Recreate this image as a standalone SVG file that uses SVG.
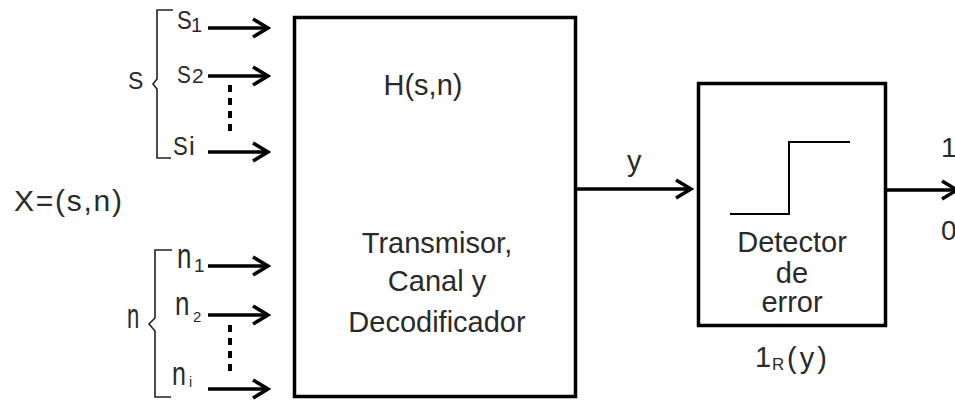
<svg xmlns="http://www.w3.org/2000/svg" width="955" height="402" viewBox="0 0 955 402">
<style>
text{font-family:"Liberation Sans",Arial,sans-serif;fill:#2a2a2a}
.box{fill:#fff;stroke:#000;stroke-width:3.5}
.arr{stroke:#000;stroke-width:3.5;fill:none}
.thin{stroke:#222;stroke-width:1.6;fill:none}
.dots{stroke:#000;stroke-width:4;stroke-dasharray:7 6;fill:none}
.lbl{font-size:29px}
.mid{text-anchor:middle}
</style>
<defs>
<marker id="ah" markerUnits="userSpaceOnUse" viewBox="0 0 20 22" refX="17" refY="11" markerWidth="20" markerHeight="22" orient="auto">
<path d="M2,2 L17,11 L2,20" stroke="#000" stroke-width="3.5" fill="none"/>
</marker>
</defs>

<g id="connectors">
<line class="arr" x1="208" y1="28" x2="268" y2="28" marker-end="url(#ah)"/>
<line class="arr" x1="208" y1="76" x2="268" y2="76" marker-end="url(#ah)"/>
<line class="arr" x1="208" y1="152" x2="268" y2="152" marker-end="url(#ah)"/>
<line class="arr" x1="208" y1="266" x2="268" y2="266" marker-end="url(#ah)"/>
<line class="arr" x1="208" y1="315" x2="268" y2="315" marker-end="url(#ah)"/>
<line class="arr" x1="208" y1="389" x2="268" y2="389" marker-end="url(#ah)"/>
<line class="dots" x1="230" y1="85" x2="230" y2="134"/>
<line class="dots" x1="230" y1="325" x2="230" y2="374"/>
<line class="arr" x1="576" y1="189" x2="691" y2="189" marker-end="url(#ah)"/>
<line class="arr" x1="887" y1="190" x2="957" y2="190" marker-end="url(#ah)"/>
<text x="627" y="171" class="lbl">y</text>
<text x="941" y="157" style="font-size:28px">1</text>
<text x="941" y="240" style="font-size:28px">0</text>
</g>

<g id="s-inputs">
<path class="thin" d="M173,10 H157 V79 L153,84 L157,89 V158 H171"/>
<text x="128" y="89" style="font-size:23px">S</text>
<text transform="translate(177 29) scale(0.85 1)" style="font-size:26px">S</text>
<text x="191" y="32" style="font-size:20px">1</text>
<text transform="translate(177 83) scale(0.9 1)" style="font-size:23px">S</text>
<text x="192" y="83" style="font-size:21px">2</text>
<text transform="translate(173 155) scale(0.85 1)" style="font-size:26px">S</text>
<text x="189" y="155" style="font-size:26px">i</text>
</g>

<g id="x-label">
<text x="14" y="211" style="font-size:30px" textLength="108" lengthAdjust="spacing">X=(s,n)</text>
</g>

<g id="n-inputs">
<path class="thin" d="M172,250 H155 V318 L149,324 L155,331 V397 H171"/>
<text transform="translate(127 328) scale(0.85 1.35)" style="font-size:26px">n</text>
<text transform="translate(177 268) scale(1 1.35)" style="font-size:26px">n</text>
<text x="194" y="272" style="font-size:19px">1</text>
<text transform="translate(175 315) scale(1 1.3)" style="font-size:26px">n</text>
<text x="193" y="322" style="font-size:15px">2</text>
<text transform="translate(172 385) scale(1 1.3)" style="font-size:25px">n</text>
<text x="189" y="387" style="font-size:14px">i</text>
</g>

<g id="channel">
<rect class="box" x="294.5" y="17.5" width="281" height="379"/>
<text x="423" y="95" class="lbl mid">H(s,n)</text>
<text x="437" y="253" class="lbl mid">Transmisor,</text>
<text x="437" y="291" class="lbl mid">Canal y</text>
<text x="437" y="332" class="lbl mid">Decodificador</text>
</g>

<g id="detector">
<rect class="box" x="698.5" y="83.5" width="187" height="242"/>
<path d="M730,214 H789 V142 H850" stroke="#000" stroke-width="2" fill="none"/>
<text x="792" y="252" class="lbl mid">Detector</text>
<text x="792" y="283" class="lbl mid">de</text>
<text x="792" y="312" class="lbl mid">error</text>
<text x="755" y="367" class="lbl">1</text>
<text x="772" y="370" style="font-size:17px">R</text>
<text x="787" y="368" class="lbl" letter-spacing="3">(y)</text>
</g>
</svg>
